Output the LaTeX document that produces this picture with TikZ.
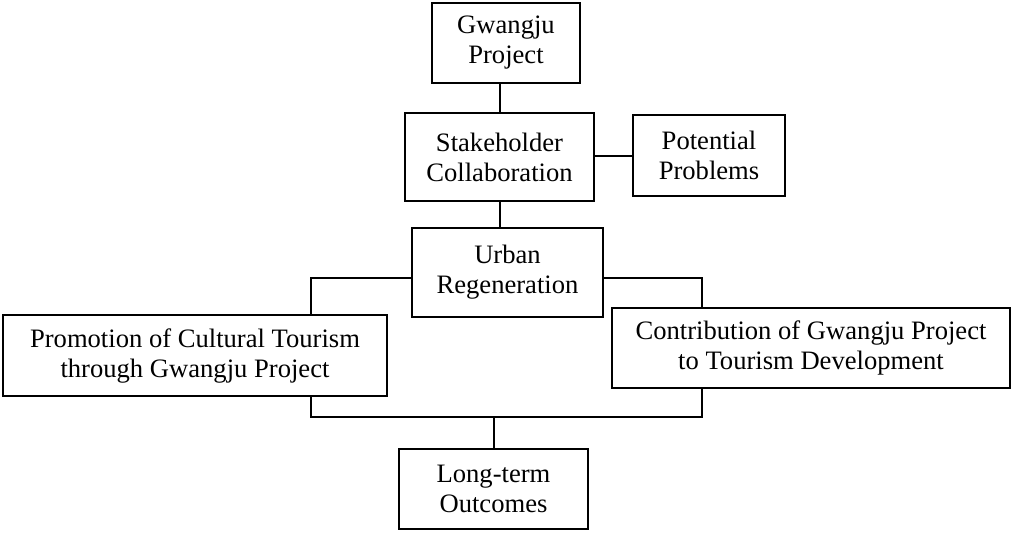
\documentclass[tikz,border=0pt]{standalone}
\usepackage{fontspec}
\setmainfont{Liberation Serif}
\begin{document}
\begin{tikzpicture}[x=1pt,y=-1pt,
  box/.style={draw=black,line width=2.6pt,align=center,inner sep=0pt,
    font=\fontsize{26.6}{30}\selectfont},
  link/.style={draw=black,line width=2pt}]
\useasboundingbox (0,0) rectangle (1012,533);
\node[box,minimum width=148pt,minimum height=80pt] (gp) at (506,43) {Gwangju\\Project};
\node[box,minimum width=189pt,minimum height=88pt] (sc) at (499.5,157) {Stakeholder\\Collaboration};
\node[box,minimum width=152pt,minimum height=81pt] (pp) at (709,155.5) {Potential\\Problems};
\node[box,minimum width=191pt,minimum height=89pt] (ur) at (507.5,272.5) {Urban\\Regeneration};
\node[box,minimum width=384pt,minimum height=81pt] (pc) at (195,355.5) {Promotion of Cultural Tourism\\through Gwangju Project};
\node[box,minimum width=398pt,minimum height=80pt] (cg) at (811,348) {Contribution of Gwangju Project\\to Tourism Development};
\node[box,minimum width=189pt,minimum height=80pt] (lo) at (493.5,489) {Long-term\\Outcomes};
\coordinate (jl) at (311,278);
\coordinate (jr) at (702,278);
\coordinate (bl) at (311,417);
\coordinate (br) at (702,417);
\coordinate (bm) at (494,417);
\draw[link] (sc.north) -- (sc.north |- gp.south);
\draw[link] (sc.east |- pp.west) -- (pp.west);
\draw[link] (sc.south) -- (sc.south |- ur.north);
\draw[link] (ur.west |- jl) -- (jl) -- (jl |- pc.north);
\draw[link] (ur.east |- jr) -- (jr) -- (jr |- cg.north);
\draw[link] (bl |- pc.south) -- (bl) -- (br) -- (br |- cg.south);
\draw[link] (bm) -- (bm |- lo.north);
\end{tikzpicture}
\end{document}
